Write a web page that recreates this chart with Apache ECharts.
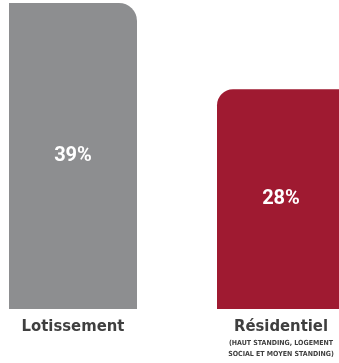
<!DOCTYPE html>
<html>
<head>
<meta charset="utf-8">
<script src="https://cdn.jsdelivr.net/npm/echarts@6/dist/echarts.min.js"></script>
<style>
  html, body { margin: 0; padding: 0; background: #fff; }
  #chart { width: 339px; height: 363px; }
</style>
</head>
<body>
<div id="chart"></div>
<script>
// Share of each housing type (percent)
const categories = ['Lotissement', 'Résidentiel'];
const subtitles = ['', '(HAUT STANDING, LOGEMENT\nSOCIAL ET MOYEN STANDING)'];
const shares = [39, 28];
const barColors = ['#8d8e90', '#9f1a31'];
const corners = [[0, 18, 0, 0], [16, 0, 0, 0]];

const condensed = '"DejaVu Sans Condensed", "Roboto", sans-serif';

const chart = echarts.init(document.getElementById('chart'));
chart.setOption({
  animation: false,
  grid: { left: -31, width: 416, top: 3, bottom: 54, outerBoundsMode: 'none', containLabel: false },
  xAxis: {
    type: 'category',
    data: categories,
    axisLine: { show: false },
    axisTick: { show: false },
    axisLabel: {
      margin: 7,
      interval: 0,
      hideOverlap: false,
      formatter: function (value, idx) {
        const sub = subtitles[idx];
        if (!sub) return '{t|' + value + '}';
        return '{t|' + value + '}\n' + sub.split('\n').map(s => '{s|' + s + '}').join('\n');
      },
      rich: {
        t: { fontFamily: condensed, fontWeight: 'bold', fontSize: 16.5, color: '#3f3f3f', lineHeight: 22 },
        s: { fontFamily: condensed, fontWeight: 'bold', fontSize: 7, color: '#3f3f3f', lineHeight: 10.5 }
      }
    }
  },
  yAxis: {
    type: 'value',
    min: 0,
    max: 39,
    show: false,
    splitLine: { show: false }
  },
  series: [{
    type: 'bar',
    barWidth: 128,
    data: shares.map((v, i) => ({
      value: v,
      itemStyle: { color: barColors[i], borderRadius: corners[i] }
    })),
    label: {
      show: true,
      position: 'inside',
      formatter: '{c}%',
      color: '#ffffff',
      fontFamily: 'Roboto, sans-serif',
      fontWeight: 'bold',
      fontSize: 20
    }
  }]
});
</script>
</body>
</html>
